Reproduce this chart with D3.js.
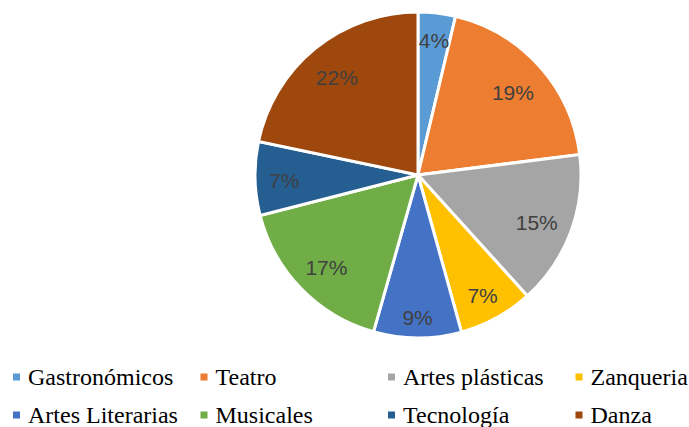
<!DOCTYPE html>
<html>
<head>
<meta charset="utf-8">
<script src="https://cdn.jsdelivr.net/npm/d3@7"></script>
<style>
  html, body { margin: 0; padding: 0; background: #fff; }
  svg { display: block; }
</style>
</head>
<body>
<svg id="chart" width="689" height="427"></svg>
<script>
// ---- Data ----
const categories = ["Gastronómicos", "Teatro", "Artes plásticas", "Zanqueria",
                    "Artes Literarias", "Musicales", "Tecnología", "Danza"];
const values = [3.7, 19.3, 15.3, 7.4, 8.7, 16.6, 7.3, 21.7];
const labels = ["4%", "19%", "15%", "7%", "9%", "17%", "7%", "22%"];
const colors = ["#5B9BD5", "#ED7D31", "#A5A5A5", "#FFC000",
                "#4472C4", "#70AD47", "#255E91", "#9E480E"];

// ---- Layout ----
const svg = d3.select("#chart");
const cx = 418, cy = 175, R = 163;

const data = categories.map((c, i) => ({ name: c, value: values[i], label: labels[i], color: colors[i] }));

const pie = d3.pie().sort(null).value(d => d.value).startAngle(0).endAngle(2 * Math.PI);
const arc = d3.arc().innerRadius(0).outerRadius(R);
const arcs = pie(data);

const g = svg.append("g").attr("transform", `translate(${cx},${cy})`);

g.selectAll("path.slice")
  .data(arcs)
  .join("path")
  .attr("class", "slice")
  .attr("d", arc)
  .attr("fill", d => d.data.color)
  .attr("stroke", "#fff")
  .attr("stroke-width", 3)
  .attr("stroke-linejoin", "miter");

// Labels: placed inside, pushed toward the rim so the text box stays a gap inside the edge
const labelG = g.append("g");
const boxH = 18, gap = 12, rimR = R - 1.5;
arcs.forEach(a => {
  const t = labelG.append("text")
    .attr("text-anchor", "middle")
    .attr("dy", "0.5em")
    .attr("font-family", "'Liberation Sans', Arial, sans-serif")
    .attr("font-size", 21)
    .attr("fill", "#404040")
    .text(a.data.label);
  const w = t.node().getComputedTextLength();
  const ang = (a.startAngle + a.endAngle) / 2;
  const ux = Math.sin(ang), uy = -Math.cos(ang);
  const chx = Math.sign(ux) * w / 2, chy = Math.sign(uy) * boxH / 2;
  const uc = ux * chx + uy * chy;
  const c2 = chx * chx + chy * chy;
  const target = rimR - gap;
  const d = -uc + Math.sqrt(uc * uc - c2 + target * target);
  t.attr("x", ux * d).attr("y", uy * d);
});

// ---- Legend ----
const legendCols = [13, 200.5, 388, 575.5];
const legendRows = [377, 415];
const legend = svg.append("g");
data.forEach((d, i) => {
  const col = i % 4, row = Math.floor(i / 4);
  const x = legendCols[col], y = legendRows[row];
  legend.append("rect")
    .attr("x", x).attr("y", y - 3.5)
    .attr("width", 7).attr("height", 7)
    .attr("fill", d.color);
  legend.append("text")
    .attr("x", x + 15).attr("y", y + 8)
    .attr("font-family", "'Liberation Serif', 'Times New Roman', serif")
    .attr("font-size", 24)
    .attr("fill", "#000")
    .text(d.name);
});
</script>
</body>
</html>
